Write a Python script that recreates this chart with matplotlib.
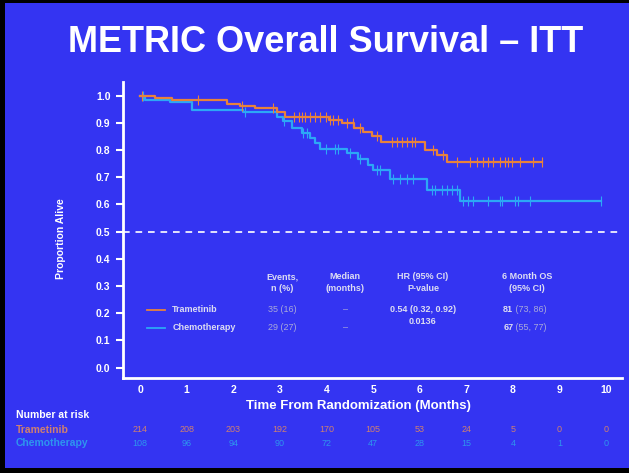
import numpy as np
import matplotlib.pyplot as plt
from matplotlib.patches import Rectangle

plt.rcParams['font.family'] = ['Liberation Sans', 'DejaVu Sans']

# Kaplan-Meier steps (months, proportion alive)
tram_t = [0, 0.32, 0.69, 1.87, 2.15, 2.47, 2.94, 3.10, 4.05, 4.33, 4.60, 4.78, 4.97, 5.18, 6.12, 6.37, 6.59, 8.63]
tram_s = [1.0, 0.993, 0.983, 0.970, 0.962, 0.955, 0.940, 0.922, 0.910, 0.899, 0.880, 0.868, 0.850, 0.828, 0.800, 0.782, 0.755, 0.755]
tram_cens = [0.04, 1.24, 2.19, 2.86, 3.30, 3.40, 3.47, 3.54, 3.65, 3.76, 3.86, 4.00, 4.08, 4.14, 4.25, 4.44,
             4.57, 4.72, 5.08, 5.40, 5.51, 5.62, 5.72, 5.83, 5.90, 6.28, 6.50, 6.79, 7.08, 7.22, 7.36,
             7.46, 7.57, 7.73, 7.83, 7.90, 7.98, 8.15, 8.43, 8.62]

chemo_t = [0, 0.11, 0.64, 1.12, 2.20, 2.94, 3.06, 3.26, 3.48, 3.65, 3.76, 3.86, 4.44, 4.68, 4.89, 5.00, 5.37, 6.16, 6.87, 9.90]
chemo_s = [1.0, 0.983, 0.975, 0.948, 0.940, 0.922, 0.905, 0.880, 0.862, 0.845, 0.825, 0.803, 0.788, 0.766, 0.745, 0.727, 0.695, 0.653, 0.612, 0.612]
chemo_cens = [0.06, 2.25, 3.09, 3.50, 3.58, 4.00, 4.18, 4.25, 4.51, 4.72, 5.08, 5.15, 5.43, 5.58, 5.72, 5.86,
              6.26, 6.33, 6.47, 6.58, 6.69, 6.79, 6.93, 7.04, 7.14, 7.47, 7.73, 7.76, 8.05, 8.11, 8.37, 9.90]

months = list(range(0, 11))
risk_tram = [214, 208, 203, 192, 170, 105, 53, 24, 5, 0, 0]
risk_chemo = [108, 96, 94, 90, 72, 47, 28, 15, 4, 1, 0]

bg = '#3434F2'
c_tram = '#E8823C'
c_chemo = '#2CA8F6'
c_grey = '#A9A9DA'
c_head = '#DCDCF2'
c_risk_tram = '#CF8070'
c_risk_chemo = '#2E96EE'

fig = plt.figure(figsize=(6.29, 4.73), dpi=100)
fig.patch.set_facecolor('black')
fig.patches.append(Rectangle((5 / 629, 5 / 473), 1, 465 / 473, transform=fig.transFigure,
                             facecolor=bg, edgecolor='none', zorder=-1))

fig.text(0.518, 1 - 42 / 473, 'METRIC Overall Survival \u2013 ITT', color='white',
         fontsize=26, fontweight='bold', ha='center', va='center')

ax = fig.add_axes([123 / 629, 1 - 378 / 473, 499 / 629, 296 / 473])
ax.set_facecolor('none')


def at(times, ts, ss):
    idx = np.searchsorted(ts, times, side='right') - 1
    return np.array(ss)[idx]


ax.step(tram_t, tram_s, where='post', color=c_tram, lw=1.6, zorder=3)
ax.step(chemo_t, chemo_s, where='post', color=c_chemo, lw=1.6, zorder=2)
ax.plot(tram_cens, at(tram_cens, tram_t, tram_s), ls='none', marker='|', ms=7, mew=0.8, color=c_tram, zorder=3)
ax.plot(chemo_cens, at(chemo_cens, chemo_t, chemo_s), ls='none', marker='|', ms=7, mew=0.8, color=c_chemo, zorder=2)

ax.axhline(0.5, color='white', lw=1.2, ls=(0, (4, 3.5)))

ax.set_xlim(-0.365, 10.34)
ax.set_ylim(-0.038, 1.05)
ax.set_xticks(months)
ax.set_yticks(np.arange(0, 1.01, 0.1))
ax.set_yticklabels([f'{v:.1f}' for v in np.arange(0, 1.01, 0.1)])
for s in ['top', 'right']:
    ax.spines[s].set_visible(False)
for s in ['left', 'bottom']:
    ax.spines[s].set_color('white')
    ax.spines[s].set_linewidth(2)
ax.tick_params(axis='y', colors='white', length=5, width=1.5, labelsize=7.5, pad=4)
ax.tick_params(axis='x', colors='white', length=0, labelsize=7.5, pad=5)
for lab in ax.get_xticklabels() + ax.get_yticklabels():
    lab.set_fontweight('bold')
    lab.set_color('white')

ax.set_ylabel('Proportion Alive', color='white', fontsize=7.5, fontweight='bold')
ax.yaxis.set_label_coords(-0.115, 0.47)
ax.set_xlabel('Time From Randomization (Months)', color='white', fontsize=9.5, fontweight='bold')
ax.xaxis.set_label_coords(0.472, -0.075)

# summary table inside the plot
hy = 0.313
for x, txt in [(3.05, 'Events,\nn (%)'), (4.4, 'Median\n(months)'), (6.07, 'HR (95% CI)\nP-value'),
               (8.3, '6 Month OS\n(95% CI)')]:
    ax.text(x, hy, txt, color=c_head, fontsize=6.5, fontweight='bold', ha='center', va='center', linespacing=1.3)

rows = [(0.212, 'Trametinib', c_tram, '35 (16)', '81', '(73, 86)'),
        (0.147, 'Chemotherapy', c_chemo, '29 (27)', '67', '(55, 77)')]
for y, name, col, ev, os6, ci in rows:
    ax.plot([0.15, 0.54], [y, y], color=col, lw=1.3)
    ax.text(0.69, y, name, color=c_head, fontsize=6.5, fontweight='bold', va='center')
    ax.text(3.05, y, ev, color=c_grey, fontsize=6.5, ha='center', va='center')
    ax.text(4.4, y, '\u2013', color=c_grey, fontsize=6.5, ha='center', va='center')
    t = ax.text(7.79, y, os6, color=c_head, fontsize=6.5, fontweight='bold', va='center')
    ax.annotate(' ' + ci, xycoords=t, xy=(1, 0.5), va='center', color=c_grey, fontsize=6.5)
ax.text(6.07, 0.212, '0.54 (0.32, 0.92)', color=c_head, fontsize=6.5, fontweight='bold', ha='center', va='center')
ax.text(6.07, 0.169, '0.0136', color=c_head, fontsize=6.5, fontweight='bold', ha='center', va='center')

# number at risk
tr = ax.get_xaxis_transform()
fig.text(16 / 629, 1 - 415 / 473, 'Number at risk', color='white', fontsize=7.5, fontweight='bold', va='center')
fig.text(16 / 629, 1 - 430 / 473, 'Trametinib', color=c_risk_tram, fontsize=7.5, fontweight='bold', va='center')
fig.text(16 / 629, 1 - 443 / 473, 'Chemotherapy', color=c_risk_chemo, fontsize=7.5, fontweight='bold', va='center')
for m, a, b in zip(months, risk_tram, risk_chemo):
    ax.text(m, -(430 - 378) / 296, str(a), transform=tr, color=c_risk_tram, fontsize=6.5, ha='center', va='center')
    ax.text(m, -(443 - 378) / 296, str(b), transform=tr, color=c_risk_chemo, fontsize=6.5, ha='center', va='center')

fig.savefig('out.png', dpi=100, facecolor=fig.get_facecolor())
